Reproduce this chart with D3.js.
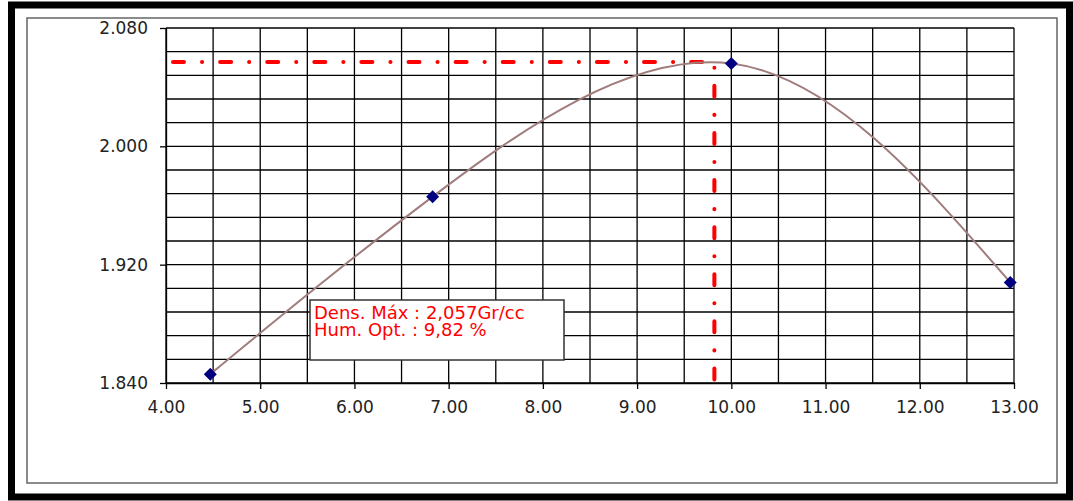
<!DOCTYPE html>
<html>
<head>
<meta charset="utf-8">
<script src="https://cdn.jsdelivr.net/npm/d3@7"></script>
<style>
  html, body { margin: 0; padding: 0; background: #fff; }
  svg { display: block; }
  .axis text { font-family: "DejaVu Sans", Verdana, sans-serif; font-size: 17px; fill: #222; }
  .axis line, .axis path { stroke: #000; stroke-width: 1.3; }
</style>
</head>
<body>
<div id="chart"></div>
<script>
// Data
const humedad = [4.47, 6.83, 10.00, 12.96];      // % moisture
const densidad = [1.846, 1.966, 2.056, 1.908];  // dry density
const densMax = 2.057;
const humOpt = 9.82;
const xTicks = [4, 5, 6, 7, 8, 9, 10, 11, 12, 13];
const yTicks = [1.84, 1.92, 2.00, 2.08];
const xGrid = d3.range(4, 13.001, 0.5);
const yGrid = d3.range(1.84, 2.0801, 0.016);
const notaLineas = ["Dens. Máx : 2,057Gr/cc", "Hum. Opt. : 9,82 %"];

const width = 1073, height = 501;
const margin = { top: 28, right: 59, bottom: 118, left: 166 };

const svg = d3.select("#chart").append("svg")
    .attr("width", width)
    .attr("height", height);

// outer frames
svg.append("rect")
    .attr("x", 11.5).attr("y", 5)
    .attr("width", 1058).attr("height", 492)
    .attr("fill", "none").attr("stroke", "#000").attr("stroke-width", 7);
svg.append("rect")
    .attr("x", 27).attr("y", 18)
    .attr("width", 1030).attr("height", 465)
    .attr("fill", "none").attr("stroke", "#666").attr("stroke-width", 1.5);

const x = d3.scaleLinear().domain([4, 13]).range([margin.left, width - margin.right]);
const y = d3.scaleLinear().domain([1.84, 2.08]).range([height - margin.bottom, margin.top]);

// grid
const grid = svg.append("g").attr("stroke", "#000").attr("stroke-width", 1.3);
grid.selectAll(".vg").data(xGrid).enter().append("line")
    .attr("x1", d => x(d)).attr("x2", d => x(d))
    .attr("y1", y(2.08)).attr("y2", y(1.84));
grid.selectAll(".hg").data(yGrid).enter().append("line")
    .attr("x1", x(4)).attr("x2", x(13))
    .attr("y1", d => y(d)).attr("y2", d => y(d));

// axes
svg.append("g")
    .attr("class", "axis")
    .attr("transform", `translate(0, ${y(1.84)})`)
    .call(d3.axisBottom(x).tickValues(xTicks).tickFormat(d3.format(".2f"))
        .tickSize(6).tickSizeOuter(0).tickPadding(12));

svg.append("g")
    .attr("class", "axis")
    .attr("transform", `translate(${x(4)}, 0)`)
    .call(d3.axisLeft(y).tickValues(yTicks).tickFormat(d3.format(".3f"))
        .tickSize(6).tickSizeOuter(0).tickPadding(12));

// optimum guide lines
svg.append("path")
    .attr("d", d3.line()([[x(4), y(densMax)], [x(humOpt), y(densMax)], [x(humOpt), y(1.84)]]))
    .attr("fill", "none")
    .attr("stroke", "#ff0000")
    .attr("stroke-width", 4)
    .attr("stroke-linecap", "round")
    .attr("stroke-dasharray", "11,18,0.1,18")
    .attr("stroke-dashoffset", -7);

// fitted curve
const pts = humedad.map((h, i) => [h, densidad[i]]);
svg.append("path")
    .datum(pts)
    .attr("fill", "none")
    .attr("stroke", "#a07c7c")
    .attr("stroke-width", 2)
    .attr("d", d3.line().x(d => x(d[0])).y(d => y(d[1])).curve(d3.curveNatural));

// markers
svg.selectAll(".pt").data(pts).enter().append("path")
    .attr("transform", d => `translate(${x(d[0])}, ${y(d[1])})`)
    .attr("d", "M0,-6.5L6.5,0L0,6.5L-6.5,0Z")
    .attr("fill", "#000080");

// annotation box
svg.append("rect")
    .attr("x", 310).attr("y", 300)
    .attr("width", 254).attr("height", 60)
    .attr("fill", "#fff").attr("stroke", "#333").attr("stroke-width", 1.5);
const nota = svg.append("text")
    .attr("fill", "#ff0000")
    .style("font-family", "\"DejaVu Sans\", Verdana, sans-serif")
    .style("font-size", "18px");
nota.selectAll("tspan").data(notaLineas).enter().append("tspan")
    .attr("x", 314)
    .attr("y", (d, i) => 319 + i * 17)
    .text(d => d);
</script>
</body>
</html>
